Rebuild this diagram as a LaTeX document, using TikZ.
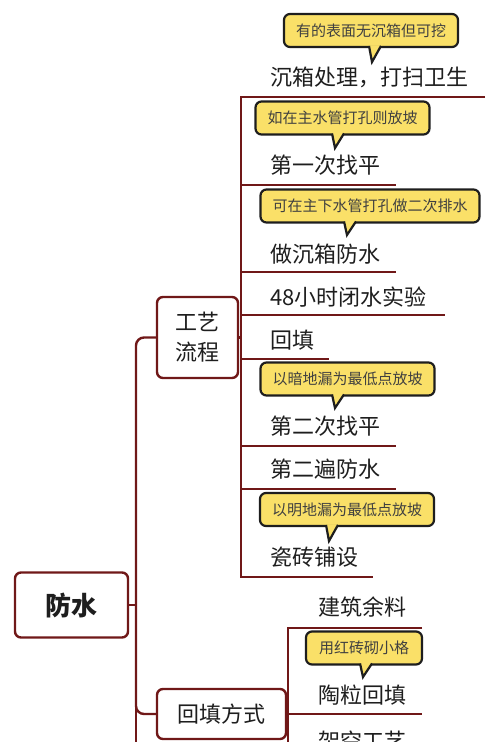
\documentclass[tikz,border=0pt]{standalone}
\usepackage{fontspec}
\setmainfont{Noto Sans CJK SC}
\usetikzlibrary{calc}
\definecolor{branch}{RGB}{112,24,24}
\definecolor{bubble}{RGB}{250,224,104}
\definecolor{ink}{RGB}{30,30,30}
\tikzset{
  branchline/.style={draw=branch, line width=2.4pt},
  topic/.style={draw=branch, line width=2.4pt, rounded corners=6pt, fill=white, text=ink,
    font=\fontsize{22}{30}\selectfont, align=center, inner sep=0pt, outer sep=0pt},
  leaf/.style={anchor=west, inner sep=0pt, text=ink, font=\fontsize{22}{26}\selectfont},
  note/.style={draw=ink, line width=2.2pt, rounded corners=6pt, fill=bubble, text=ink!85,
    font=\fontsize{15}{18}\selectfont, minimum height=33pt, inner xsep=12pt, inner ysep=0pt, outer sep=0pt},
  tipfill/.style={fill=bubble},
  tipline/.style={draw=ink, line width=2.2pt, line join=miter}
}
\newcommand\mytip[2]{%
  \fill[tipfill] ($(#2 |- #1.south)+(-3.5,-1.6)$) -- (#2) -- ($(#2 |- #1.south)+(9.5,-1.6)$) -- cycle;
  \draw[tipline] ($(#2 |- #1.south)+(-3,-1.1)$) -- (#2) -- ($(#2 |- #1.south)+(9,-1.1)$);
}
\begin{document}
\begin{tikzpicture}[x=1pt,y=-1pt]
\useasboundingbox (0,0) rectangle (500,742);
% topics
\node[topic, minimum width=113pt, minimum height=65pt, font=\fontsize{26}{30}\selectfont\bfseries] (root) at (71.5,605) {防水};
\node[topic, minimum width=81pt, minimum height=81pt] (gy) at (197.5,337.5) {工艺\\流程};
\node[topic, minimum width=129pt, minimum height=50pt] (hf) at (221.5,714) {回填方式};
% trunk
\coordinate (t1) at (136,337.5);
\coordinate (t2) at (136,714);
\coordinate (t3) at (136,760);
\draw[branchline] (root.east) -- (136,605);
\draw[branchline, rounded corners=8pt] (gy.west) -- (t1) -- (t2) -- (hf.west);
\draw[branchline] (136,700) -- (t3);
% process branch
\coordinate (a0) at (241,97);
\coordinate (a9) at (241,577);
\draw[branchline] (gy.east) -- (241,337.5);
\draw[branchline] (485,97) -- (a0) -- (a9) -- (373,577);
\draw[branchline] (241,185) -- (396,185);
\draw[branchline] (241,272) -- (396,272);
\draw[branchline] (241,315) -- (445,315);
\draw[branchline] (241,359) -- (329,359);
\draw[branchline] (241,446) -- (396,446);
\draw[branchline] (241,489) -- (396,489);
% leaves
\node[leaf] (l1) at (270,77) {沉箱处理，打扫卫生};
\node[leaf] (l2) at (270,165) {第一次找平};
\node[leaf] (l3) at (270,254) {做沉箱防水};
\node[leaf] (l4) at (270,297) {48小时闭水实验};
\node[leaf] (l5) at (270,340) {回填};
\node[leaf] (l6) at (270,426) {第二次找平};
\node[leaf] (l7) at (270,469) {第二遍防水};
\node[leaf] (l8) at (270,557) {瓷砖铺设};
% notes
\node[note] (n1) at (371,30.5) {有的表面无沉箱但可挖};
\coordinate (p1) at (372,62);
\mytip{n1}{p1}
\node[note] (n2) at (342.5,118) {如在主水管打孔则放坡};
\coordinate (p2) at (335,148);
\mytip{n2}{p2}
\node[note] (n3) at (370,206) {可在主下水管打孔做二次排水};
\coordinate (p3) at (347,235);
\mytip{n3}{p3}
\node[note] (n6) at (347.5,379) {以暗地漏为最低点放坡};
\coordinate (p6) at (335,408);
\mytip{n6}{p6}
\node[note] (n8) at (347,509.5) {以明地漏为最低点放坡};
\coordinate (p8) at (329,541);
\mytip{n8}{p8}
% backfill branch
\coordinate (b0) at (288,628);
\coordinate (b9) at (288,760);
\draw[branchline] (422,628) -- (b0) -- (b9);
\draw[branchline] (hf.east) -- (422,714);
\node[leaf] (m1) at (318,607) {建筑余料};
\node[leaf] (m2) at (318,695) {陶粒回填};
\node[leaf] (m3) at (318,741) {架空工艺};
\node[note, inner xsep=13pt] (n9) at (364,648) {用红砖砌小格};
\coordinate (p9) at (363,677);
\mytip{n9}{p9}
\end{tikzpicture}
\end{document}
